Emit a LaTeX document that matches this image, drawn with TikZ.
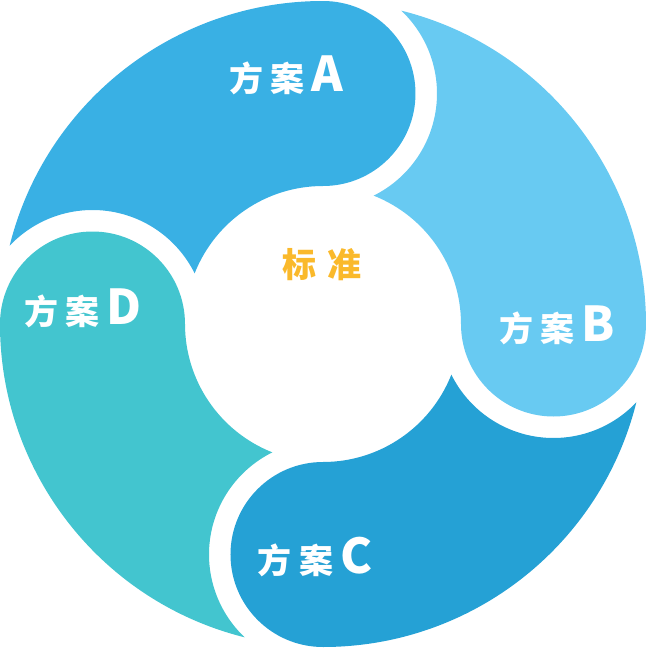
\documentclass[tikz,border=0pt]{standalone}
\usepackage{fontspec}
\newfontfamily\cjk{Noto Sans CJK SC}
\usetikzlibrary{positioning}
\definecolor{plana}{RGB}{57,176,228}
\definecolor{planb}{RGB}{104,202,242}
\definecolor{planc}{RGB}{37,161,213}
\definecolor{pland}{RGB}{67,197,207}
\definecolor{stdtxt}{RGB}{250,185,43}
% ring sizes, one unit = 10px of the picture
\pgfmathsetmacro\Rout{32.3}
\pgfmathsetmacro\Rin{13.8}
\pgfmathsetmacro\Rmid{(\Rout+\Rin)/2}
\pgfmathsetmacro\Wcap{(\Rout-\Rin)/2}
\pgfmathsetmacro\Rnotch{11.4}
\pgfmathsetmacro\phio{acos((\Rmid^2+\Rout^2-\Rnotch^2)/(2*\Rmid*\Rout))}
\pgfmathsetmacro\phii{acos((\Rmid^2+\Rin^2-\Rnotch^2)/(2*\Rmid*\Rin))}
\pgfmathsetmacro\alo{atan2(-\Rout*sin(\phio),\Rout*cos(\phio)-\Rmid)}
\pgfmathsetmacro\ali{atan2(-\Rin*sin(\phii),\Rin*cos(\phii)-\Rmid)}
\newcommand\planlbl[1]{方\hspace{.22em}案\hspace{.2em}{\fontsize{24}{24}\selectfont #1}}
\tikzset{
  lbl/.style={font=\cjk\bfseries\fontsize{17}{17}\selectfont, text=white, inner sep=0pt},
  stdlbl/.style={font=\cjk\bfseries\fontsize{17}{17}\selectfont, text=stdtxt, inner sep=0pt}
}
\begin{document}
\begin{tikzpicture}[x=5pt,y=5pt]
  \useasboundingbox (-32.3,-32.6) rectangle (32.7,32.4);
  \foreach \tc/\col in {90/plana,0/planb,270/planc,180/pland}{
    \pgfmathsetmacro\ts{\tc+90}
    \fill[\col] (\ts-\phio:\Rout)
      arc[start angle=\ts-\phio, end angle=\tc, radius=\Rout]
      arc[start angle=\tc, end angle=\tc-180, radius=\Wcap]
      arc[start angle=\tc, end angle=\ts-\phii, radius=\Rin]
      arc[start angle=\ts+\ali, end angle=\ts+\alo, radius=\Rnotch]
      -- cycle;
  }
  \node[lbl] (la) at (-3.7,24.9) {\planlbl{A}};
  \node[lbl] (lb) at (23.4,-0.1) {\planlbl{B}};
  \node[lbl] (lc) at (-0.8,-23.3) {\planlbl{C}};
  \node[lbl] (ld) at (-24.0,1.6) {\planlbl{D}};
  \node[stdlbl] (std) at (-0.1,5.9) {标\hspace{.3em}准};
\end{tikzpicture}
\end{document}
